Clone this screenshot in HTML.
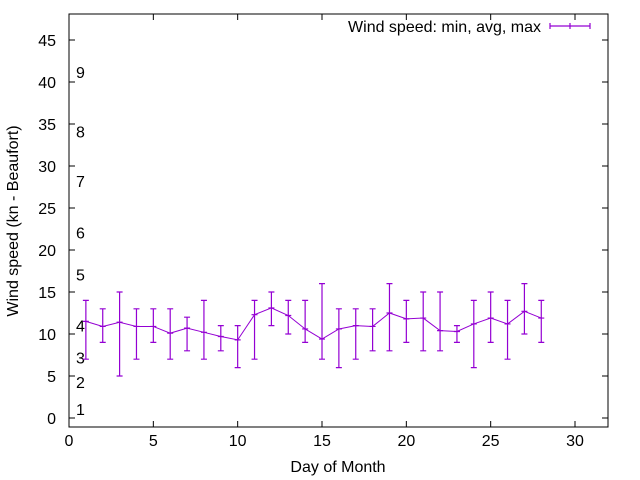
<!DOCTYPE html>
<html><head><meta charset="utf-8"><style>
body{margin:0;background:#fff}
svg{display:block;font-family:"Liberation Sans",sans-serif}
</style></head><body>
<svg id="c" width="640" height="480"></svg>
<script>
const days=[1,2,3,4,5,6,7,8,9,10,11,12,13,14,15,16,17,18,19,20,21,22,23,24,25,26,27,28];
const avgs=[11.5,10.9,11.4,10.9,10.9,10.1,10.7,10.2,9.7,9.3,12.3,13.1,12.2,10.6,9.4,10.6,11.0,10.9,12.5,11.8,11.9,10.4,10.3,11.2,11.9,11.2,12.7,11.9];
const mins=[7,9,5,7,9,7,8,7,8,6,7,11,10,9,7,6,7,8,8,9,8,8,9,6,9,7,10,9];
const maxs=[14,13,15,13,13,13,12,14,11,11,14,15,14,14,16,13,13,13,16,14,15,15,11,14,15,14,16,14];
const xTicks=[0,5,10,15,20,25,30];
const yTicks=[0,5,10,15,20,25,30,35,40,45];
const bfLabels=["1","2","3","4","5","6","7","8","9"];
const bfY=[1.1,4.3,7.2,11.0,17.1,22.1,28.2,34.1,41.2];
const NS="http://www.w3.org/2000/svg";
const svg=document.getElementById('c');
const L=69,R=608,T=14,B=427;
const X=v=>69+v*16.867;
const Y=v=>418-v*8.4;
function mk(t,a){const e=document.createElementNS(NS,t);for(const k in a)e.setAttribute(k,a[k]);svg.appendChild(e);return e;}
const C="#9400d3";
const FS=16;
let e=mk('rect',{x:L,y:T,width:R-L,height:B-T,fill:'none',stroke:'#000','stroke-width':1});


xTicks.forEach(v=>{
 let t=mk('line',{x1:X(v),x2:X(v),y1:B,y2:B-6,stroke:'#000'});
 
 
 let t2=mk('line',{x1:X(v),x2:X(v),y1:T,y2:T+6,stroke:'#000'});
 
 
 let l=mk('text',{x:X(v),y:446,'text-anchor':'middle','font-size':FS});
 l.textContent=v;
 
 
});
yTicks.forEach(v=>{
 let t=mk('line',{x1:L,x2:L+6,y1:Y(v),y2:Y(v),stroke:'#000'});
 
 
 let t2=mk('line',{x1:R,x2:R-6,y1:Y(v),y2:Y(v),stroke:'#000'});
 
 
 let l=mk('text',{x:56,y:Y(v)+6,'text-anchor':'end','font-size':FS});
 l.textContent=v;
 
 
});
bfLabels.forEach((s,i)=>{
 let l=mk('text',{x:76,y:Y(bfY[i])+6,'font-size':FS});
 l.textContent=s;
 
 
});
let xt=mk('text',{x:338,y:472,'text-anchor':'middle','font-size':FS});
xt.textContent='Day of Month';


let yt=mk('text',{x:0,y:0,'text-anchor':'middle','font-size':FS,transform:'translate(18,221) rotate(-90)'});
yt.textContent='Wind speed (kn - Beaufort)';


let pts=days.map((d,i)=>X(d)+','+Y(avgs[i])).join(' ');
let pl=mk('polyline',{points:pts,fill:'none',stroke:C,'stroke-width':1});


days.forEach((d,i)=>{
 const x=X(d);
 let g=mk('path',{d:`M${x},${Y(mins[i])}V${Y(maxs[i])}M${x-3},${Y(mins[i])}h6M${x-3},${Y(maxs[i])}h6M${x-3},${Y(avgs[i])}h6`,stroke:C,'stroke-width':1.2,fill:'none'});
 
 
});
let lt=mk('text',{x:541,y:32,'text-anchor':'end','font-size':FS});
lt.textContent='Wind speed: min, avg, max';


let ls=mk('path',{d:'M550,26H590M550,23v6M590,23v6M570,23v6',stroke:C,'stroke-width':1.2});


</script>
</body></html>
